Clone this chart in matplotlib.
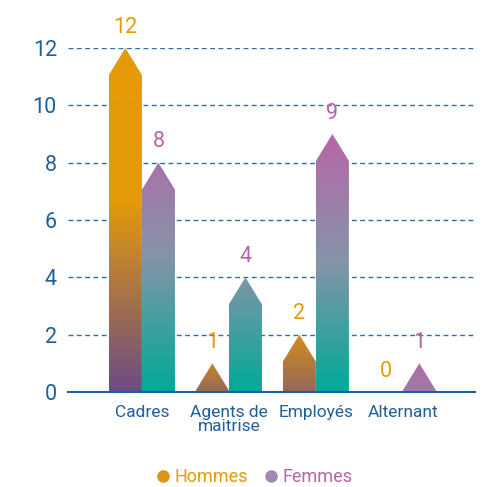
import numpy as np
import matplotlib
matplotlib.use("Agg")
import matplotlib.pyplot as plt
from matplotlib.colors import LinearSegmentedColormap
from matplotlib.patches import Polygon
from matplotlib.lines import Line2D

categories = ["Cadres", "Agents de\nmaitrise", "Employés", "Alternant"]
hommes = [12, 1, 2, 0]
femmes = [8, 4, 9, 1]
series_names = ["Hommes", "Femmes"]
yticks = [0, 2, 4, 6, 8, 10, 12]

# gradient span (bottom, top) in colormap units for each bar
grad_hommes = [(0.0, 1.0), (0.2, 0.42), (0.2, 0.46), (0.2, 0.4)]
grad_femmes = [(0.0, 0.85), (0.0, 0.48), (0.0, 1.0), (0.75, 0.95)]

blue = "#1F5F9A"
c_h = "#E69A05"
c_f = "#B565A7"
cmap_h = LinearSegmentedColormap.from_list("h", [(0, "#6B4B87"), (0.55, "#E39A0A"), (1, "#E69A05")])
cmap_f = LinearSegmentedColormap.from_list("f", [(0, "#00AA98"), (0.5, "#8494A8"), (1, "#B865A8")])

plt.rcParams["font.family"] = ["Roboto", "DejaVu Sans"]

fig = plt.figure(figsize=(4.87, 4.87), dpi=100)
ax = fig.add_axes([0.1396, 0.195, 0.8358, 0.7064])

width = 0.38
tip = 0.94


def arrow_bar(x0, v, cmap, span):
    if v <= 0:
        return
    x1 = x0 + width
    th = min(tip, v)
    pts = [(x0, 0), (x1, 0), (x1, v - th), ((x0 + x1) / 2, v), (x0, v - th)]
    poly = Polygon(pts, closed=True, facecolor="none", edgecolor="none")
    ax.add_patch(poly)
    grad = np.linspace(span[1], span[0], 256).reshape(-1, 1)
    im = ax.imshow(grad, cmap=cmap, vmin=0, vmax=1, aspect="auto",
                   extent=[x0, x1, 0, v], interpolation="bilinear", zorder=3)
    im.set_clip_path(poly)


for i in range(len(categories)):
    arrow_bar(i - width, hommes[i], cmap_h, grad_hommes[i])
    arrow_bar(i, femmes[i], cmap_f, grad_femmes[i])
    ax.annotate(str(hommes[i]), (i - width / 2, hommes[i]), xytext=(0, 11),
                textcoords="offset points", ha="center", va="baseline",
                color=c_h, fontsize=15.5, annotation_clip=False)
    ax.annotate(str(femmes[i]), (i + width / 2, femmes[i]), xytext=(0, 11),
                textcoords="offset points", ha="center", va="baseline",
                color=c_f, fontsize=15.5, annotation_clip=False)

for y in yticks[1:]:
    ax.axhline(y, color="#2F6FA8", lw=1, ls=(0, (3.5, 2.5)), zorder=1)

ax.set_xlim(-0.85, 3.83)
ax.set_ylim(0, 12)
ax.set_yticks(yticks)
ax.set_xticks(range(len(categories)))
ax.set_xticklabels(categories, linespacing=0.95)
ax.tick_params(axis="y", length=0, pad=8, labelcolor=blue, labelsize=15.5)
ax.tick_params(axis="x", length=0, pad=9, labelcolor=blue, labelsize=12.5)
for s in ["top", "right", "left"]:
    ax.spines[s].set_visible(False)
ax.spines["bottom"].set_color(blue)
ax.spines["bottom"].set_linewidth(1.5)
ax.spines["bottom"].set_zorder(5)

handles = [Line2D([], [], ls="none", marker="o", markersize=9, markerfacecolor="#DC9418", markeredgecolor="none"),
           Line2D([], [], ls="none", marker="o", markersize=9, markerfacecolor="#A08AB4", markeredgecolor="none")]
fig.legend(handles, series_names, loc="center", bbox_to_anchor=(0.52, 0.02), ncol=2,
           frameon=False, fontsize=13, labelcolor=[c_h, c_f], handletextpad=0.1,
           columnspacing=0.8, handlelength=1.0)

fig.savefig("out.png", dpi=100)
